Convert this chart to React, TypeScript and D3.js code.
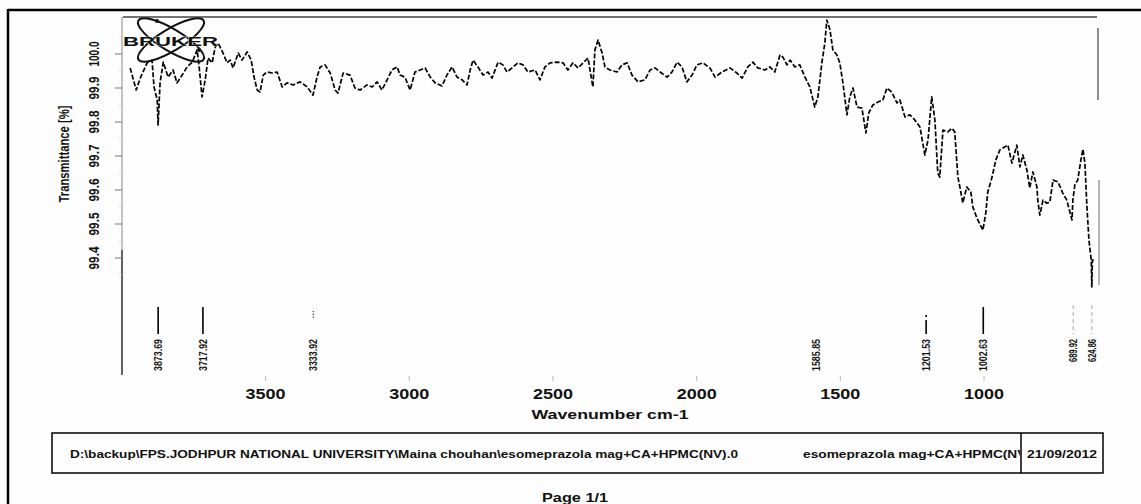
import React from "react";
import * as d3 from "d3";

// ---- data ----
const wavenumbers: number[] = [
  3971, 3950, 3936, 3912, 3895, 3888, 3877, 3874, 3867, 3856, 3839, 3822, 3808, 3790, 3773, 3755, 3738, 3731, 3721, 3710,
  3700, 3686, 3675, 3665, 3648, 3634, 3623, 3613, 3595, 3582, 3564, 3550, 3540, 3529, 3519, 3508, 3495, 3477, 3460, 3442,
  3425, 3404, 3380, 3355, 3335, 3321, 3310, 3293, 3275, 3258, 3248, 3230, 3206, 3189, 3171, 3147, 3129, 3112, 3095, 3077,
  3060, 3042, 3032, 3015, 2997, 2980, 2962, 2945, 2927, 2910, 2886, 2869, 2851, 2834, 2816, 2799, 2788, 2778, 2761, 2743,
  2726, 2712, 2691, 2674, 2660, 2642, 2622, 2604, 2587, 2562, 2545, 2528, 2510, 2486, 2465, 2448, 2430, 2413, 2395, 2378,
  2361, 2354, 2343, 2329, 2319, 2302, 2277, 2260, 2242, 2225, 2204, 2180, 2162, 2145, 2127, 2103, 2086, 2068, 2051, 2034,
  2016, 1999, 1978, 1954, 1936, 1912, 1884, 1860, 1842, 1822, 1804, 1787, 1762, 1745, 1728, 1710, 1700, 1686, 1675, 1658,
  1641, 1623, 1606, 1589, 1578, 1564, 1554, 1547, 1536, 1526, 1512, 1502, 1491, 1477, 1467, 1456, 1442, 1425, 1411, 1401,
  1387, 1369, 1352, 1338, 1321, 1303, 1293, 1275, 1258, 1241, 1223, 1206, 1195, 1182, 1171, 1161, 1154, 1143, 1126, 1112,
  1102, 1091, 1084, 1074, 1060, 1046, 1039, 1025, 1004, 994, 987, 973, 959, 945, 917, 903, 886, 875, 865, 851,
  841, 830, 816, 813, 806, 795, 781, 771, 760, 743, 726, 712, 694, 691, 684, 674, 663, 656, 649, 642,
  635, 627, 625, 623, 618,
];
const transmittance: number[] = [
  99.959, 99.894, 99.929, 99.974, 99.982, 99.903, 99.865, 99.791, 99.915, 99.976, 99.932, 99.953, 99.915, 99.938, 99.962, 99.976, 100.012, 99.962, 99.874, 99.924,
  99.988, 99.974, 100.021, 100.032, 100.003, 99.974, 99.982, 99.959, 100.003, 99.982, 100.006, 99.982, 99.932, 99.894, 99.888, 99.938, 99.947, 99.944, 99.947, 99.903,
  99.915, 99.909, 99.918, 99.903, 99.879, 99.932, 99.962, 99.968, 99.944, 99.894, 99.885, 99.944, 99.938, 99.9, 99.894, 99.909, 99.903, 99.918, 99.894, 99.924,
  99.953, 99.962, 99.938, 99.932, 99.894, 99.947, 99.953, 99.959, 99.932, 99.915, 99.906, 99.938, 99.962, 99.932, 99.924, 99.909, 99.953, 99.982, 99.962, 99.938,
  99.947, 99.929, 99.976, 99.968, 99.947, 99.959, 99.974, 99.968, 99.947, 99.953, 99.924, 99.962, 99.974, 99.976, 99.974, 99.953, 99.974, 99.959, 99.974, 99.988,
  99.903, 100.012, 100.041, 100.003, 99.962, 99.953, 99.947, 99.968, 99.974, 99.938, 99.918, 99.924, 99.953, 99.959, 99.947, 99.932, 99.947, 99.976, 99.962, 99.918,
  99.938, 99.968, 99.974, 99.959, 99.932, 99.947, 99.959, 99.944, 99.929, 99.962, 99.976, 99.959, 99.953, 99.962, 99.947, 99.997, 99.991, 99.968, 99.982, 99.962,
  99.968, 99.932, 99.903, 99.844, 99.874, 99.976, 100.032, 100.1, 100.071, 100.012, 99.997, 99.974, 99.915, 99.821, 99.874, 99.9, 99.844, 99.841, 99.768, 99.827,
  99.85, 99.859, 99.865, 99.9, 99.888, 99.856, 99.865, 99.815, 99.821, 99.806, 99.785, 99.703, 99.747, 99.874, 99.806, 99.65, 99.638, 99.776, 99.771, 99.782,
  99.771, 99.638, 99.609, 99.562, 99.609, 99.594, 99.55, 99.518, 99.482, 99.532, 99.594, 99.635, 99.688, 99.718, 99.732, 99.679, 99.732, 99.668, 99.703, 99.659,
  99.606, 99.653, 99.609, 99.57, 99.526, 99.57, 99.561, 99.565, 99.629, 99.624, 99.591, 99.57, 99.512, 99.57, 99.615, 99.629, 99.688, 99.72, 99.679, 99.55,
  99.453, 99.394, 99.315, 99.394, 99.394,
];

const yTicks: number[] = [99.4, 99.5, 99.6, 99.7, 99.8, 99.9, 100.0];
const xTicks: number[] = [3500, 3000, 2500, 2000, 1500, 1000];
const peakWn: number[] = [3873.69, 3717.92, 3333.92, 1585.85, 1201.53, 1002.63, 689.92, 624.86];
const peakText: string[] = ["3873.69", "3717.92", "3333.92", "1585.85", "1201.53", "1002.63", "689.92", "624.86"];

const footerPath = "D:\\backup\\FPS.JODHPUR NATIONAL UNIVERSITY\\Maina chouhan\\esomeprazola mag+CA+HPMC(NV).0";
const footerSample = "esomeprazola mag+CA+HPMC(NV)";
const footerDate = "21/09/2012";

// rendering style per peak marker (not data)
const markerStyle: Record<string, string> = {
  "3873.69": "solid",
  "3717.92": "solid",
  "3333.92": "dots",
  "1585.85": "none",
  "1201.53": "dotsolid",
  "1002.63": "solid",
  "689.92": "faint",
  "624.86": "faint",
};

const W = 1141;
const H = 504;
const FONT = "'Liberation Sans', Arial, Helvetica, sans-serif";

export default function App() {
  const x = d3.scaleLinear().domain([3996, 600]).range([123, 1099]);
  const y = d3.scaleLinear().domain([99.4, 100.0]).range([258, 54]);

  const pts = wavenumbers.map((w, i) => [w, transmittance[i]] as [number, number]);
  const line = d3
    .line<[number, number]>()
    .x((d) => x(d[0]))
    .y((d) => y(d[1]));

  const minorY = d3.range(99.35, 100.06, 0.05).filter((v) => !yTicks.some((t) => Math.abs(t - v) < 1e-6));

  return (
    <svg
      width={W}
      height={H}
      viewBox={`0 0 ${W} ${H}`}
      style={{ position: "absolute", left: 0, top: 0, background: "#fdfdfd" }}
    >
      <rect x={0} y={0} width={W} height={H} fill="#fdfdfd" />
      {/* outer page border */}
      <line x1={8} y1={10} x2={W} y2={10} stroke="#000" strokeWidth={2.5} />
      <line x1={8} y1={9} x2={8} y2={H} stroke="#000" strokeWidth={2.5} />

      {/* plot frame */}
      <line x1={123} y1={17} x2={1097} y2={17} stroke="#444" strokeWidth={1.3} />
      <line x1={122} y1={17} x2={122} y2={375} stroke="#888" strokeWidth={1} />
      <line x1={122} y1={250} x2={122} y2={375} stroke="#222" strokeWidth={1.2} />
      <line x1={1098} y1={28} x2={1098} y2={100} stroke="#555" strokeWidth={1.3} />
      <line x1={1099} y1={180} x2={1099} y2={285} stroke="#888" strokeWidth={1.2} />

      {/* y ticks */}
      {yTicks.map((t) => (
        <line key={"yt" + t} x1={115} x2={122} y1={y(t)} y2={y(t)} stroke="#777" strokeWidth={1} />
      ))}
      {minorY.map((t) => (
        <line key={"ym" + t} x1={119} x2={122} y1={y(t)} y2={y(t)} stroke="#ccc" strokeWidth={0.8} />
      ))}
      {yTicks.map((t) => (
        <text
          key={"yl" + t}
          transform={`translate(99,${y(t)}) rotate(-90)`}
          textAnchor="middle"
          fontFamily={FONT}
          fontSize={15}
          fontWeight="bold"
          textLength={t >= 100 ? 25 : 23}
          lengthAdjust="spacingAndGlyphs"
          fill="#111"
        >
          {t.toFixed(1)}
        </text>
      ))}
      <text
        transform={`translate(69,154) rotate(-90)`}
        textAnchor="middle"
        fontFamily={FONT}
        fontSize={14}
        fontWeight="bold"
        textLength={97}
        lengthAdjust="spacingAndGlyphs"
        fill="#111"
      >
        Transmittance [%]
      </text>

      {/* x ticks */}
      {xTicks.map((t) => (
        <line key={"xt" + t} x1={x(t)} x2={x(t)} y1={376} y2={381} stroke="#bbb" strokeWidth={1} />
      ))}
      {xTicks.map((t) => (
        <text
          key={"xl" + t}
          x={x(t)}
          y={399}
          textAnchor="middle"
          fontFamily={FONT}
          fontSize={14}
          fontWeight="bold"
          textLength={40}
          lengthAdjust="spacingAndGlyphs"
          fill="#111"
        >
          {t}
        </text>
      ))}
      <text
        x={610}
        y={419}
        textAnchor="middle"
        fontFamily={FONT}
        fontSize={13}
        fontWeight="bold"
        textLength={157}
        lengthAdjust="spacingAndGlyphs"
        fill="#111"
      >
        Wavenumber cm-1
      </text>

      {/* peak markers and labels */}
      {peakWn.map((w, i) => {
        const label = peakText[i];
        const kind = markerStyle[label];
        const px = x(w);
        let mark: React.ReactNode = null;
        if (kind === "solid") {
          mark = <line x1={px} x2={px} y1={307} y2={334} stroke="#000" strokeWidth={1.6} />;
        } else if (kind === "dotsolid") {
          mark = (
            <g>
              <line x1={px} x2={px} y1={315} y2={317} stroke="#000" strokeWidth={1.6} />
              <line x1={px} x2={px} y1={320} y2={334} stroke="#000" strokeWidth={1.6} />
            </g>
          );
        } else if (kind === "dots") {
          mark = (
            <line x1={px} x2={px} y1={311} y2={319} stroke="#333" strokeWidth={1.2} strokeDasharray="1.2 1.6" />
          );
        } else if (kind === "faint") {
          mark = (
            <line x1={px} x2={px} y1={305} y2={334} stroke="#aaa" strokeWidth={1} strokeDasharray="4 3" />
          );
        }
        return (
          <g key={"pk" + label}>
            {mark}
            <text
              transform={`translate(${px + 4},339) rotate(-90)`}
              textAnchor="end"
              fontFamily={FONT}
              fontSize={11}
              fontWeight="bold"
              textLength={label.length === 7 ? 32 : 23}
              lengthAdjust="spacingAndGlyphs"
              fill="#111"
            >
              {label}
            </text>
          </g>
        );
      })}

      {/* spectrum */}
      <path
        d={line(pts) || ""}
        fill="none"
        stroke="#000"
        strokeWidth={1.7}
        strokeDasharray="5 2"
        strokeLinejoin="round"
      />

      {/* BRUKER logo */}
      <g>
        <ellipse cx={171} cy={40} rx={38} ry={11} fill="none" stroke="#111" strokeWidth={2} transform="rotate(31 171 40)" />
        <ellipse cx={171} cy={40} rx={38} ry={11} fill="none" stroke="#111" strokeWidth={2} transform="rotate(-31 171 40)" />
        <circle cx={157} cy={21} r={2} fill="#111" />
        <circle cx={199} cy={50} r={2} fill="#111" />
        <text
          x={123}
          y={46}
          fontFamily={FONT}
          fontSize={12}
          fontWeight="900"
          textLength={95}
          lengthAdjust="spacingAndGlyphs"
          fill="#111"
          stroke="#fdfdfd"
          strokeWidth={0.6}
          paintOrder="stroke"
        >
          BRUKER
        </text>
      </g>

      {/* footer box */}
      <rect x={52} y={433} width={1051} height={40} fill="none" stroke="#000" strokeWidth={1.5} />
      <line x1={1021} x2={1021} y1={433} y2={473} stroke="#000" strokeWidth={1.5} />
      <text
        x={70}
        y={458}
        fontFamily={FONT}
        fontSize={10}
        fontWeight="bold"
        textLength={668}
        lengthAdjust="spacingAndGlyphs"
        fill="#111"
      >
        {footerPath}
      </text>
      <clipPath id="sampleClip">
        <rect x={790} y={433} width={230} height={40} />
      </clipPath>
      <text
        x={803}
        y={458}
        fontFamily={FONT}
        fontSize={10}
        fontWeight="bold"
        textLength={228}
        lengthAdjust="spacingAndGlyphs"
        fill="#111"
        clipPath="url(#sampleClip)"
      >
        {footerSample}
      </text>
      <text
        x={1062}
        y={458}
        textAnchor="middle"
        fontFamily={FONT}
        fontSize={10}
        fontWeight="bold"
        textLength={70}
        lengthAdjust="spacingAndGlyphs"
        fill="#111"
      >
        {footerDate}
      </text>
      <text
        x={575}
        y={502}
        textAnchor="middle"
        fontFamily={FONT}
        fontSize={13}
        fontWeight="bold"
        textLength={66}
        lengthAdjust="spacingAndGlyphs"
        fill="#111"
      >
        Page 1/1
      </text>
    </svg>
  );
}
